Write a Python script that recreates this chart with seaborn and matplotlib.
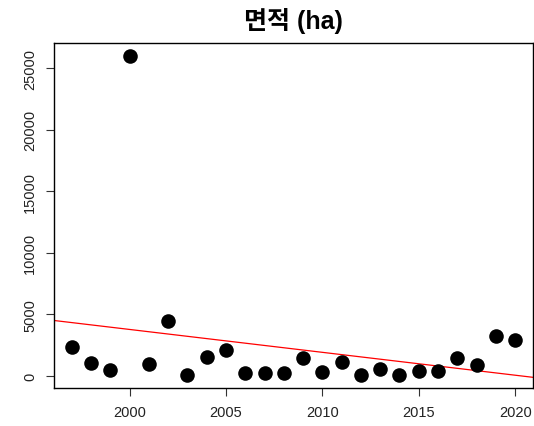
import numpy as np
import pandas as pd
import matplotlib
matplotlib.use("Agg")
import matplotlib.pyplot as plt
import seaborn as sns

years = list(range(1997, 2021))
area_ha = [2330, 1030, 510, 26000, 950, 4490, 80, 1570, 2110, 240, 240, 240,
           1430, 300, 1110, 80, 570, 60, 410, 410, 1490, 870, 3270, 2950]
x_ticks = [2000, 2005, 2010, 2015, 2020]
y_ticks = [0, 5000, 10000, 15000, 20000, 25000]
title = "면적 (ha)"

sns.set_style("white")
plt.rcParams["font.family"] = ["Liberation Sans", "Noto Sans CJK KR", "DejaVu Sans"]

df = pd.DataFrame({"year": years, "area": area_ha})

fig = plt.figure(figsize=(5.34, 4.27), dpi=100)
ax = fig.add_axes([0.101, 0.089, 0.897, 0.808])

sns.scatterplot(data=df, x="year", y="area", ax=ax, color="black", s=110,
                edgecolor="black", linewidth=0, legend=False, zorder=3)

# least-squares trend line across the full panel
slope, intercept = np.polyfit(df["year"], df["area"], 1)
ax.axline((0, intercept), slope=slope, color="red", linewidth=0.9, zorder=2)

# R-style 4% padding around the data range
xr = max(years) - min(years)
ax.set_xlim(min(years) - 0.04 * xr, max(years) + 0.04 * xr)
yr = max(area_ha) - min(area_ha)
ax.set_ylim(min(area_ha) - 0.04 * yr, max(area_ha) + 0.04 * yr)

ax.set_xticks(x_ticks)
ax.set_yticks(y_ticks)
ax.set_yticklabels([str(v) for v in y_ticks], rotation=90, va="center")
ax.tick_params(axis="both", direction="out", length=6, width=0.8, color="#333333",
               labelsize=10.5, labelcolor="#222222", bottom=True, left=True, pad=6)
for sp in ax.spines.values():
    sp.set_visible(True)
    sp.set_color("black")
    sp.set_linewidth(1.0)
ax.set_xlabel("")
ax.set_ylabel("")

fig.text(0.55, 0.95, title, ha="center", va="center", fontsize=18, fontweight="bold",
         color="black", family=["Liberation Sans", "Noto Sans CJK KR", "DejaVu Sans"])

fig.savefig("out.png", dpi=100, facecolor="white")
